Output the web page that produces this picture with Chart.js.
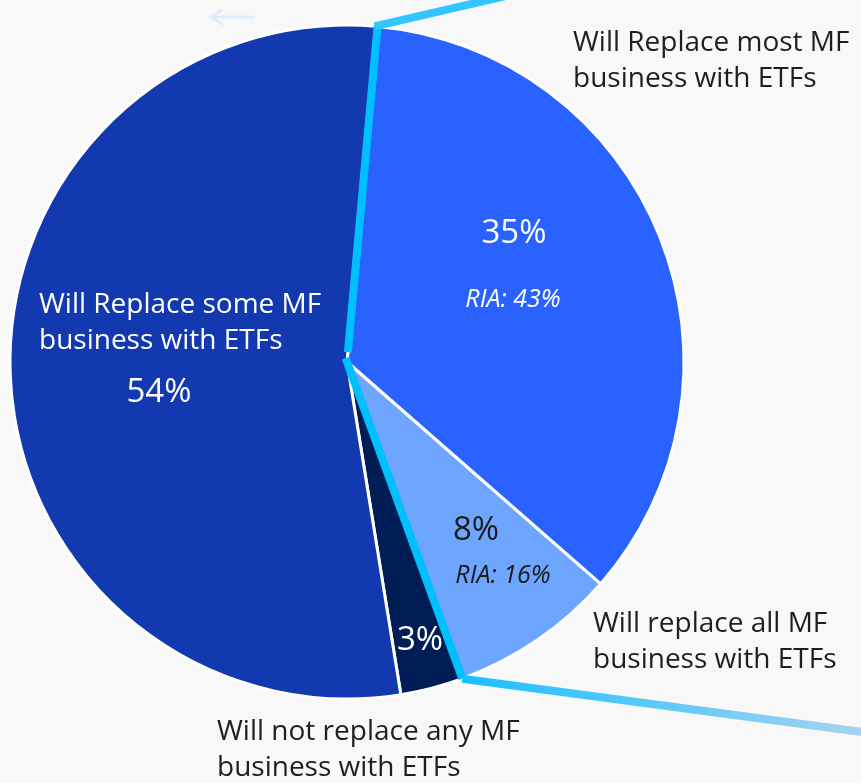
<!DOCTYPE html>
<html lang="en">
<head>
    <meta charset="UTF-8">
    <title>ETF vs MF intentions</title>
    <script src="https://cdn.jsdelivr.net/npm/chart.js@4"></script>
    <style>
        html, body {
            margin: 0;
            padding: 0;
            background-color: #f8f8f8;
            overflow: hidden;
        }
        .chart-box {
            position: relative;
            width: 861px;
            height: 783px;
        }
    </style>
</head>
<body>
    <div class="chart-box">
        <canvas id="mfChart"></canvas>
    </div>

    <script>
        // Slices run clockwise from the top
        const categories = [
            ['Will Replace most MF', 'business with ETFs'],
            ['Will replace all MF', 'business with ETFs'],
            ['Will not replace any MF', 'business with ETFs'],
            ['Will Replace some MF', 'business with ETFs']
        ];
        const shares = [35, 8, 3, 54];
        const riaShares = [43, 16, null, null];

        const sliceColors = ['#2962ff', '#6ea6ff', '#001e55', '#1239b0'];

        // where each slice's texts go: category block (left x, first baseline),
        // value (centre x, baseline), RIA note (centre x, baseline)
        const labelSpots = [
            { cat: [573, 51], catColor: '#1e1e1e', val: [514, 243], valColor: '#ffffff', ria: [513, 307] },
            { cat: [593, 632], catColor: '#1e1e1e', val: [476, 540], valColor: '#1a1a1a', ria: [503, 583] },
            { cat: [217, 740], catColor: '#1e1e1e', val: [420, 650], valColor: '#ffffff', ria: null },
            { cat: [39, 313], catColor: '#ffffff', val: [159, 402], valColor: '#ffffff', ria: null }
        ];

        const FONT = '"Open Sans", Lato, sans-serif';

        const backdrop = {
            id: 'backdrop',
            beforeDraw(chart) {
                const ctx = chart.ctx;
                ctx.save();
                ctx.fillStyle = '#f8f8f8';
                ctx.fillRect(0, 0, chart.width, chart.height);
                // faint back arrow in the corner
                ctx.strokeStyle = '#e2edfb';
                ctx.lineWidth = 3;
                ctx.lineCap = 'round';
                ctx.beginPath();
                ctx.moveTo(253, 17);
                ctx.lineTo(211, 17);
                ctx.moveTo(222, 10);
                ctx.lineTo(211, 17);
                ctx.lineTo(222, 24);
                ctx.stroke();
                ctx.restore();
            }
        };

        // cyan connector lines on the slice edges, leading off the canvas
        const connectors = {
            id: 'connectors',
            afterDatasetsDraw(chart) {
                const arcs = chart.getDatasetMeta(0).data;
                const ctx = chart.ctx;
                const first = arcs[0];
                const cx = first.x, cy = first.y, r = first.outerRadius;
                const at = (angle, dist) => [cx + Math.cos(angle) * dist, cy + Math.sin(angle) * dist];

                const topAngle = first.startAngle;
                const lowAngle = arcs[1].endAngle;
                const topRim = at(topAngle, r);
                const lowRim = at(lowAngle, r);

                ctx.save();
                ctx.lineCap = 'butt';
                ctx.lineJoin = 'miter';

                // top edge
                ctx.strokeStyle = '#00bfff';
                ctx.lineWidth = 8;
                ctx.beginPath();
                const t0 = at(topAngle, 10);
                ctx.moveTo(t0[0], t0[1]);
                ctx.lineTo(topRim[0], topRim[1]);
                ctx.stroke();
                ctx.strokeStyle = '#33c5ff';
                ctx.beginPath();
                ctx.moveTo(topRim[0] - 3, topRim[1]);
                ctx.lineTo(topRim[0] + 230, topRim[1] - 54);
                ctx.stroke();

                // lower edge
                ctx.strokeStyle = '#00bfff';
                ctx.beginPath();
                const l0 = at(lowAngle, -4);
                ctx.moveTo(l0[0], l0[1]);
                ctx.lineTo(lowRim[0], lowRim[1]);
                ctx.stroke();
                const grad = ctx.createLinearGradient(lowRim[0], 0, chart.width, 0);
                grad.addColorStop(0, '#1ac0ff');
                grad.addColorStop(1, '#a6d3f0');
                ctx.strokeStyle = grad;
                ctx.beginPath();
                ctx.moveTo(lowRim[0], lowRim[1]);
                ctx.lineTo(lowRim[0] + 450, lowRim[1] + 60);
                ctx.stroke();
                ctx.restore();
            }
        };

        const sliceLabels = {
            id: 'sliceLabels',
            afterDraw(chart) {
                const ctx = chart.ctx;
                ctx.save();
                ctx.textBaseline = 'alphabetic';
                categories.forEach((lines, i) => {
                    const spot = labelSpots[i];
                    ctx.fillStyle = spot.catColor;
                    ctx.textAlign = 'left';
                    ctx.font = '28px ' + FONT;
                    lines.forEach((line, k) => {
                        ctx.fillText(line, spot.cat[0], spot.cat[1] + k * 36);
                    });
                    ctx.fillStyle = spot.valColor;
                    ctx.textAlign = 'center';
                    ctx.font = '33px ' + FONT;
                    ctx.fillText(shares[i] + '%', spot.val[0], spot.val[1]);
                    if (spot.ria && riaShares[i] !== null) {
                        ctx.font = 'italic 25px ' + FONT;
                        ctx.fillText('RIA: ' + riaShares[i] + '%', spot.ria[0], spot.ria[1]);
                    }
                });
                ctx.restore();
            }
        };

        const ctx = document.getElementById('mfChart').getContext('2d');
        new Chart(ctx, {
            type: 'pie',
            data: {
                labels: categories,
                datasets: [{
                    data: shares,
                    backgroundColor: sliceColors,
                    borderColor: '#ffffff',
                    borderWidth: 3,
                    radius: 337
                }]
            },
            options: {
                responsive: true,
                maintainAspectRatio: false,
                animation: false,
                rotation: 5.2,
                layout: {
                    padding: { left: 8, right: 175, top: 23, bottom: 82 }
                },
                plugins: {
                    legend: { display: false },
                    tooltip: { enabled: false }
                }
            },
            plugins: [backdrop, connectors, sliceLabels]
        });
    </script>
</body>
</html>
